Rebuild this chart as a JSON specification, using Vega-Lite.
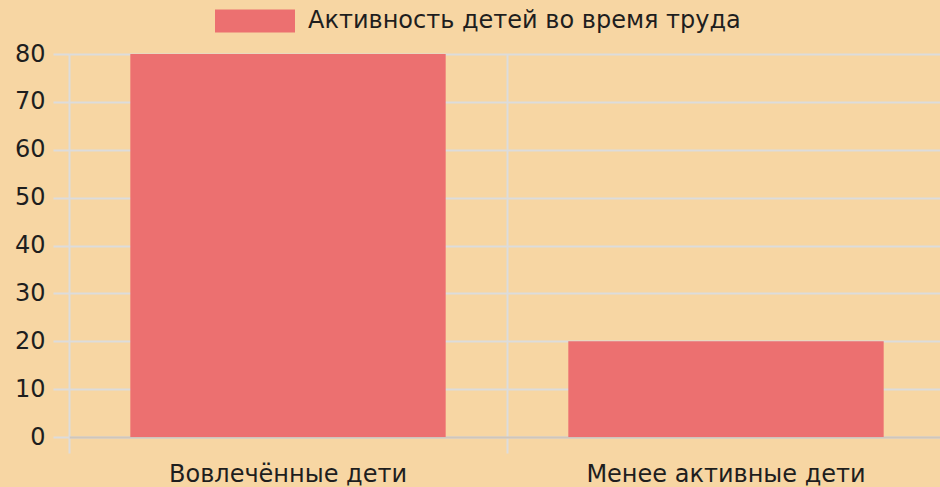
{
  "$schema": "https://vega.github.io/schema/vega-lite/v6.json",
  "autosize": "none",
  "width": 871,
  "height": 383,
  "padding": {"left": 69, "top": 54, "right": 0, "bottom": 50},
  "background": "#F7D6A3",
  "config": {
    "view": {"stroke": null},
    "font": "DejaVu Sans"
  },
  "data": {
    "values": [
      {"category": "Вовлечённые дети", "value": 80, "series": "Активность детей во время труда"},
      {"category": "Менее активные дети", "value": 20, "series": "Активность детей во время труда"}
    ]
  },
  "mark": {"type": "bar", "color": "#EC7070", "width": {"band": 0.72}},
  "encoding": {
    "x": {
      "field": "category",
      "type": "nominal",
      "sort": null,
      "scale": {"paddingInner": 0, "paddingOuter": 0, "range": [0, 876]},
      "axis": {
        "title": null,
        "bandPosition": 0,
        "labelAlign": "center",
        "labelAngle": 0,
        "labelFontSize": 24,
        "labelLimit": 500,
        "labelColor": "#1e1e1e",
        "labelPadding": 9,
        "tickSize": 16,
        "tickColor": "#dcdcdc",
        "tickWidth": 2,
        "grid": true,
        "gridColor": "#dcdcdc",
        "gridWidth": 2,
        "domainColor": "#cfc6bc",
        "domainWidth": 2
      }
    },
    "y": {
      "field": "value",
      "type": "quantitative",
      "scale": {"domain": [0, 80], "nice": false},
      "axis": {
        "title": null,
        "values": [0, 10, 20, 30, 40, 50, 60, 70, 80],
        "labelFontSize": 24,
        "labelColor": "#1e1e1e",
        "labelPadding": 8,
        "tickSize": 16,
        "tickColor": "#dcdcdc",
        "tickWidth": 2,
        "grid": true,
        "gridColor": "#dcdcdc",
        "gridWidth": 2,
        "domain": false
      }
    },
    "color": {
      "field": "series",
      "type": "nominal",
      "scale": {"range": ["#EC7070"]},
      "legend": {
        "title": null,
        "orient": "none",
        "legendX": 146,
        "legendY": -73,
        "symbolType": "M-1,-0.2875H1V0.2875H-1Z",
        "symbolSize": 6400,
        "symbolStrokeWidth": 0,
        "symbolOpacity": 1,
        "labelFontSize": 24,
        "labelColor": "#1e1e1e",
        "labelOffset": 13,
        "labelLimit": 700
      }
    }
  }
}
